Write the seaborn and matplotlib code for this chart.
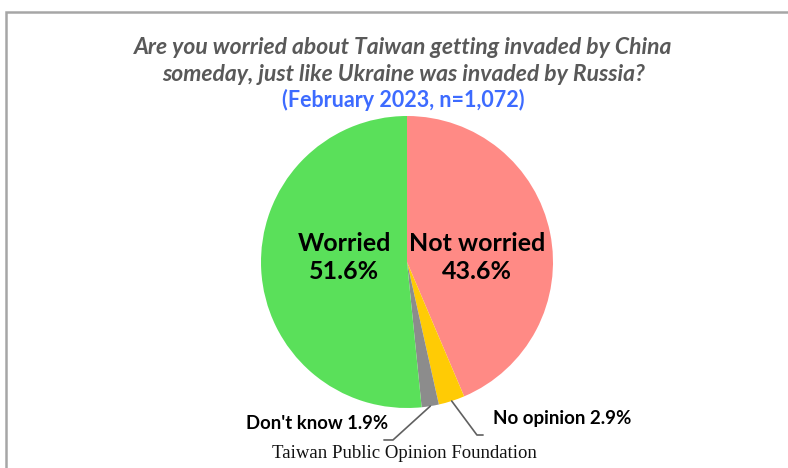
import numpy as np
import matplotlib
matplotlib.use('Agg')
import matplotlib.pyplot as plt
import seaborn as sns
from matplotlib.patches import Rectangle

# Данные опроса (февраль 2023, n=1,072)
categories = ['Not worried', 'No opinion', "Don't know", 'Worried']
shares = [43.6, 2.9, 1.9, 51.6]
colors = ['#FF8A85', '#FFCB05', '#8C8C8C', '#5AE05A']

title_lines = 'Are you worried about Taiwan getting invaded by China\nsomeday, just like Ukraine was invaded by Russia?'
subtitle = '(February 2023, n=1,072)'
source = 'Taiwan Public Opinion Foundation'

sns.set_theme(style='white')
plt.rcParams['font.family'] = ['Lato', 'DejaVu Sans']

W, H = 788, 468
fig = plt.figure(figsize=(W / 100, H / 100), dpi=100)

# рамка (видны только верх и левый край)
fig.patches.append(Rectangle((5.5 / W, -0.1), 1.2, 1.1 - 12.5 / H, transform=fig.transFigure,
                             fill=False, edgecolor='#A6A6A6', linewidth=1.8))

fig.text(0.512, 1 - 61 / H, title_lines, ha='center', va='center', fontsize=16.5,
         fontstyle='italic', fontweight='bold', color='#595959', linespacing=1.3)
fig.text(0.512, 1 - 100 / H, subtitle, ha='center', va='center', fontsize=15.5,
         fontweight='bold', color='#3D6BFF')

# пирог: центр (407, 262), радиус 146 px
cx, cy, r = 407, 262, 146
ax = fig.add_axes([(cx - r) / W, (H - cy - r) / H, 2 * r / W, 2 * r / H])
wedges, _ = ax.pie(shares, colors=colors, startangle=90, counterclock=False,
                   wedgeprops=dict(linewidth=0))
ax.set_xlim(-1, 1)
ax.set_ylim(-1, 1)
ax.set_aspect('equal')
ax.axis('off')

ax.text(-0.43, 0.03, f'{categories[3]}\n{shares[3]}%', ha='center', va='center',
        fontsize=18, fontweight='bold', color='black', linespacing=1.3)
ax.text(0.48, 0.03, f'{categories[0]}\n{shares[0]}%', ha='center', va='center',
        fontsize=18, fontweight='bold', color='black', linespacing=1.3)


def mid_point(w):
    a = np.deg2rad((w.theta1 + w.theta2) / 2)
    return np.cos(a), np.sin(a)


# выноски для маленьких секторов
x0, y0 = mid_point(wedges[2])
ax.plot([x0, -0.096, -0.158], [y0, -1.219, -1.219], color='#606060', lw=1.2, clip_on=False)
ax.text(-0.13, -1.103, f'{categories[2]} {shares[2]}%', ha='right', va='center',
        fontsize=13.3, fontweight='bold', color='black')

x1, y1 = mid_point(wedges[1])
ax.plot([x1, 0.479, 0.521], [y1, -1.185, -1.185], color='#606060', lw=1.2, clip_on=False)
ax.text(0.589, -1.075, f'{categories[1]} {shares[1]}%', ha='left', va='center',
        fontsize=13.5, fontweight='bold', color='black')

fig.text(404 / W, 1 - 454 / H, source, ha='center', va='center', fontsize=13.5,
         family=['Liberation Serif', 'DejaVu Serif'], color='#111111')

fig.savefig('out.png', dpi=100)
